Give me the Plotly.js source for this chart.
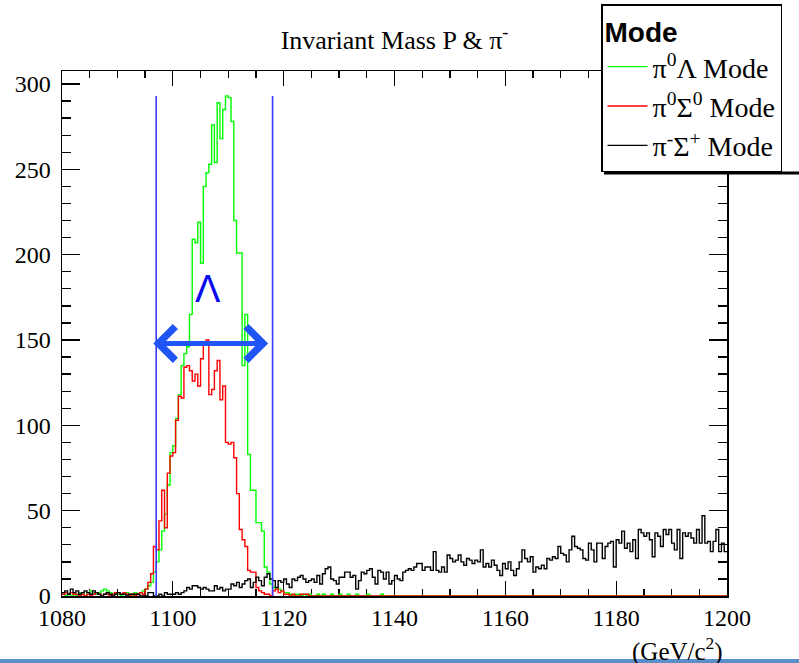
<!DOCTYPE html>
<html>
<head>
<meta charset="utf-8">
<script src="https://cdn.plot.ly/plotly-3.0.1.min.js"></script>
<style>html,body{margin:0;padding:0;background:#fff;}#chart{width:799px;height:663px;}</style>
</head>
<body>
<div id="chart"></div>
<script>
// Histogram binning (GeV/c^2)
var binLow = 1080;
var binWidth = 0.5;

// pi0 Lambda mode counts per bin
var greenCounts = [
1,0,1,0,1,0,2,1,0,2,
3,2,1,2,3,4,3,2,1,2,
1,0,1,2,1,0,2,1,2,3,
4,6,8,14,20,27,38,48,65,84,
88,104,118,135,142,146,165,209,207,219,
195,240,248,253,276,254,289,268,285,293,
292,278,220,201,201,135,165,83,62,62,
43,43,38,17,14,7,5,4,4,3,
2,2,1,0,1,1,0,1,0,1,
0,0,1,0,1,0,0,1,0,0,
1,0,0,1,0,0,1,0,0,0,
1,0,0,0,0,1,0,0,0,0,
0,0,0,0,0,0,0,0,0,0,
0,0,0,0,0,0,0,0,0,0,
0,0,0,0,0,0,0,0,0,0,
0,0,0,0,0,0,0,0,0,0,
0,0,0,0,0,0,0,0,0,0,
0,0,0,0,0,0,0,0,0,0,
0,0,0,0,0,0,0,0,0,0,
0,0,0,0,0,0,0,0,0,0,
0,0,0,0,0,0,0,0,0,0,
0,0,0,0,0,0,0,0,0,0,
0,0,0,0,0,0,0,0,0,0,
0,0,0,0,0,0,0,0,0,0
];

// pi0 Sigma0 mode counts per bin
var redCounts = [
1,2,1,2,1,1,0,1,0,1,
0,1,2,1,0,1,1,0,1,2,
2,1,2,1,0,1,0,1,2,1,
4,8,13,29,27,44,62,40,72,82,
84,103,117,116,134,135,132,126,130,123,
139,147,150,118,121,132,138,115,123,90,
89,90,81,60,39,33,29,15,14,14,
5,3,2,1,1,0,3,4,2,3,
1,1,0,1,0,0,1,1,1,0,
0,0,0,0,0,0,0,0,0,0,
0,0,0,0,0,0,0,0,0,0,
0,0,0,0,0,0,0,0,0,0,
0,0,0,0,0,0,0,0,0,0,
0,0,0,0,0,0,0,0,0,0,
0,0,0,0,0,0,0,0,0,0,
0,0,0,0,0,0,0,0,0,0,
0,0,0,0,0,0,0,0,0,0,
0,0,0,0,0,0,0,0,0,0,
0,0,0,0,0,0,0,0,0,0,
0,0,0,0,0,0,0,0,0,0,
0,0,0,0,0,0,0,0,0,0,
0,0,0,0,0,0,0,0,0,0,
0,0,0,0,0,0,0,0,0,0,
0,0,0,0,0,0,0,0,0,0
];

// pi- Sigma+ mode counts per bin
var blackCounts = [
2,3,1,4,2,3,1,2,3,2,
1,3,2,1,0,1,2,1,0,1,
2,1,1,0,1,1,1,1,0,0,
0,2,2,0,0,1,0,2,1,1,
1,2,1,2,3,5,4,6,6,5,
4,5,4,3,3,6,4,5,3,4,
4,7,6,8,5,7,9,10,5,8,
11,9,6,11,13,10,9,5,9,8,
10,7,5,10,9,11,12,10,8,9,
10,8,12,7,13,16,17,10,9,7,
11,11,14,14,11,12,4,9,14,13,
15,16,11,7,15,14,10,14,7,9,
12,10,9,14,15,16,15,17,19,19,
15,17,17,15,26,15,14,17,14,24,
22,20,21,24,20,18,22,21,19,21,
20,27,17,19,17,21,18,15,12,19,
16,20,15,12,16,20,27,22,20,23,
14,17,16,18,16,22,21,23,22,29,
25,24,20,27,35,29,28,27,22,21,
31,27,20,31,31,22,29,31,32,17,
33,31,38,28,31,26,33,22,39,37,
35,37,33,23,37,35,29,39,36,39,
31,27,39,22,37,35,37,34,31,39,
31,47,31,32,26,32,39,26,31,26
];

var seriesNames = ['π<sup>0</sup>Λ Mode', 'π<sup>0</sup>Σ<sup>0</sup> Mode', 'π<sup>-</sup>Σ<sup>+</sup> Mode'];
var seriesColors = ['#00ff00', '#ff0000', '#000000'];

// Lambda mass window and annotations
var cutLow = 1097;
var cutHigh = 1118;
var cutTop = 293;
var arrowY = 148;
var lambdaLabel = 'Λ';
var lambdaPos = [1106.3, 180];

function stepTrace(counts, name, color) {
  var xs = [], ys = [];
  for (var i = 0; i < counts.length; i++) {
    xs.push(binLow + i * binWidth);
    ys.push(counts[i]);
  }
  xs.push(binLow + counts.length * binWidth);
  ys.push(counts[counts.length - 1]);
  return {
    type: 'scatter', mode: 'lines', x: xs, y: ys, name: name,
    line: {shape: 'hv', color: color, width: 1.4},
    hoverinfo: 'skip'
  };
}

var traces = [
  stepTrace(greenCounts, seriesNames[0], seriesColors[0]),
  stepTrace(redCounts, seriesNames[1], seriesColors[1]),
  stepTrace(blackCounts, seriesNames[2], seriesColors[2])
];

var serif = 'Liberation Serif';
var sans = 'Liberation Sans';
var W = 799, H = 663, L = 62, R = 72, T = 71, B = 67;
var pw = W - L - R, ph = H - T - B;
function px(xpix) { return (xpix - L) / pw; }
function py(ypix) { return (H - B - ypix) / ph; }

var layout = {
  width: W, height: H,
  font: {family: serif, size: 24, color: '#000000'},
  margin: {l: L, r: R, t: T, b: B, autoexpand: false},
  paper_bgcolor: '#ffffff', plot_bgcolor: '#ffffff',
  showlegend: true,
  title: {
    text: 'Invariant Mass P &amp; π<sup>-</sup>',
    font: {family: serif, size: 26, color: '#000000'},
    x: 0.5, xref: 'paper', xanchor: 'center',
    y: 1 - 40 / H, yref: 'container', yanchor: 'middle'
  },
  xaxis: {
    range: [1080, 1200], dtick: 20, tick0: 1080,
    ticks: 'inside', ticklen: 15, tickwidth: 1.3, tickcolor: '#000000',
    minor: {dtick: 5, ticks: 'inside', ticklen: 7, tickwidth: 1.3, tickcolor: '#000000', showgrid: false},
    showline: true, linecolor: '#000000', linewidth: 1.5, mirror: 'ticks',
    showgrid: false, zeroline: false, layer: 'below traces',
    tickfont: {family: serif, size: 24, color: '#000000'}
  },
  yaxis: {
    range: [0, 307.6], dtick: 50, tick0: 0,
    ticks: 'inside', ticklen: 18, tickwidth: 1.3, tickcolor: '#000000',
    minor: {dtick: 10, ticks: 'inside', ticklen: 9, tickwidth: 1.3, tickcolor: '#000000', showgrid: false},
    showline: true, linecolor: '#000000', linewidth: 1.5, mirror: 'ticks',
    showgrid: false, zeroline: false, layer: 'below traces',
    tickfont: {family: serif, size: 24, color: '#000000'},
    ticklabelstandoff: 5
  },
  legend: {
    x: px(601), y: py(4), xanchor: 'left', yanchor: 'top',
    bgcolor: '#ffffff', bordercolor: '#000000', borderwidth: 1.5,
    font: {family: serif, size: 28, color: '#000000'},
    title: {text: '<b>Mode</b>', font: {family: sans, size: 28, color: '#000000'}, side: 'top'},
    itemwidth: 40, tracegroupgap: 0, entrywidth: 210
  },
  shapes: [
    {type: 'line', xref: 'x', yref: 'y', x0: cutLow, x1: cutLow, y0: 0, y1: cutTop, line: {color: '#3a3aff', width: 1.6}},
    {type: 'line', xref: 'x', yref: 'y', x0: cutHigh, x1: cutHigh, y0: 0, y1: cutTop, line: {color: '#3a3aff', width: 1.6}},
    {type: 'line', xref: 'paper', yref: 'paper', x0: px(604), x1: px(800), y0: py(173), y1: py(173), line: {color: '#000000', width: 3}},
    {type: 'rect', xref: 'paper', yref: 'paper', x0: px(0), x1: px(W), y0: py(659), y1: py(664), fillcolor: '#5b8fc9', line: {width: 0}}
  ],
  annotations: [
    {x: cutHigh - 0.8, y: arrowY, ax: cutLow - 0.8, ay: arrowY, xref: 'x', yref: 'y', axref: 'x', ayref: 'y',
     text: '', showarrow: true, arrowside: 'end+start', arrowhead: 4, startarrowhead: 4,
     arrowwidth: 5, arrowsize: 1.3, startarrowsize: 1.3, arrowcolor: '#1f55f5', standoff: 0, startstandoff: 0},
    {x: lambdaPos[0], y: lambdaPos[1], xref: 'x', yref: 'y', text: lambdaLabel, showarrow: false,
     font: {family: sans, size: 38, color: '#0a0af0'}},
    {x: px(725), y: py(649), xref: 'paper', yref: 'paper', xanchor: 'right', yanchor: 'middle',
     text: '(GeV/c<sup>2</sup>)', showarrow: false, font: {family: serif, size: 25, color: '#000000'}}
  ]
};

Plotly.newPlot('chart', traces, layout, {displayModeBar: false, staticPlot: true});
</script>
</body>
</html>
